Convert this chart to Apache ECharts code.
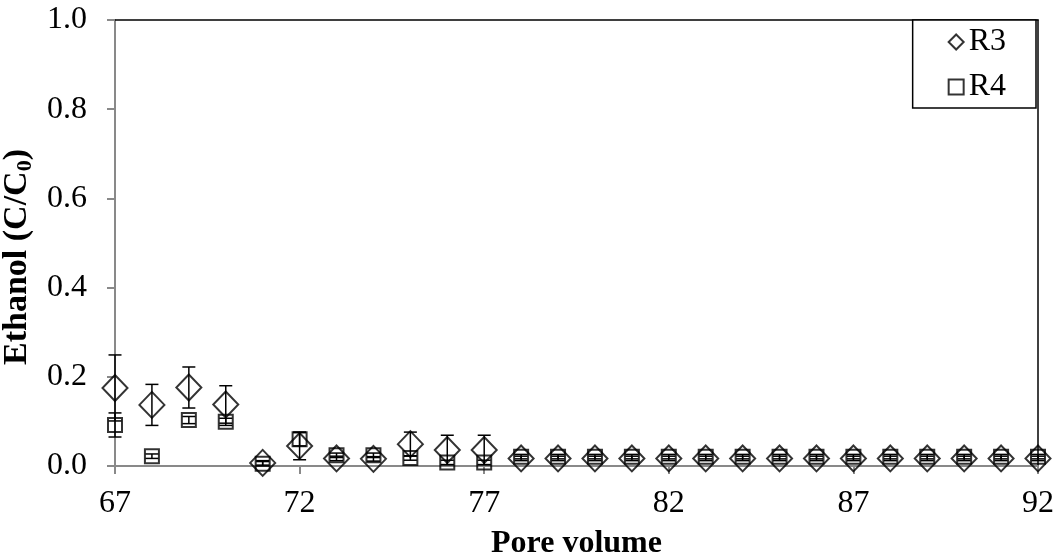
<!DOCTYPE html>
<html>
<head>
<meta charset="utf-8">
<script src="https://cdn.jsdelivr.net/npm/echarts@6/dist/echarts.min.js"></script>
<style>html,body{margin:0;padding:0;background:#fff}#c{width:1058px;height:558px}</style>
</head>
<body>
<div id="c"></div>
<script>
var poreVolume = [67,68,69,70,71,72,73,74,75,76,77,78,79,80,81,82,83,84,85,86,87,88,89,90,91,92];
var r3 = [0.175,0.137,0.176,0.138,0.007,0.045,0.017,0.016,0.049,0.036,0.036,0.017,0.017,0.017,0.017,0.017,0.017,0.017,0.017,0.017,0.017,0.017,0.017,0.017,0.017,0.017];
var r3Err = [0.074,0.046,0.046,0.042,0.005,0.031,0.005,0.005,0.027,0.033,0.033,0.005,0.005,0.005,0.005,0.005,0.005,0.005,0.005,0.005,0.005,0.005,0.005,0.005,0.005,0.005];
var r4 = [0.092,0.022,0.103,0.099,0.005,0.060,0.024,0.024,0.018,0.008,0.008,0.021,0.021,0.021,0.021,0.021,0.021,0.021,0.021,0.021,0.021,0.021,0.021,0.021,0.021,0.021];
var r4Err = [0.027,0.005,0.008,0.008,0.005,0.015,0.005,0.005,0.005,0.005,0.005,0.005,0.005,0.005,0.005,0.005,0.005,0.005,0.005,0.005,0.005,0.005,0.005,0.005,0.005,0.005];
var xTicks = [67,72,77,82,87,92];

var FONT = '"Liberation Serif", "Times New Roman", serif';

function pts(ys){ return poreVolume.map(function(x,i){ return [x, ys[i]]; }); }
function errData(ys, es){ return poreVolume.map(function(x,i){ return [x, ys[i]-es[i], ys[i]+es[i]]; }); }

function errRender(params, api){
  var x = api.value(0);
  var lo = api.coord([x, api.value(1)]);
  var hi = api.coord([x, api.value(2)]);
  var cw = 6.5;
  var st = {stroke:'#000', lineWidth:1.5};
  return {type:'group', children:[
    {type:'line', shape:{x1:lo[0],y1:lo[1],x2:hi[0],y2:hi[1]}, style:st},
    {type:'line', shape:{x1:lo[0]-cw,y1:lo[1],x2:lo[0]+cw,y2:lo[1]}, style:st},
    {type:'line', shape:{x1:hi[0]-cw,y1:hi[1],x2:hi[0]+cw,y2:hi[1]}, style:st}
  ]};
}

var chart = echarts.init(document.getElementById('c'));
chart.setOption({
  animation:false,
  backgroundColor:'#fff',
  grid:{left:115, right:20, top:20, bottom:92, show:false, containLabel:false, outerBoundsMode:'none'},
  legend:{
    orient:'vertical', right:22, top:20,
    data:['R3','R4'],
    itemWidth:15, itemHeight:15, itemGap:13,
    padding:[6,30,5,35],
    borderColor:'#000', borderWidth:1.5, backgroundColor:'#fff',
    textStyle:{fontFamily:FONT, fontSize:32, color:'#000'}
  },
  xAxis:[{
    type:'value', min:67, max:92,
    axisLine:{show:true, onZero:false, lineStyle:{color:'#898989', width:2}},
    axisTick:{show:true, customValues:xTicks, length:8, lineStyle:{color:'#898989', width:2}},
    axisLabel:{customValues:xTicks, fontFamily:FONT, fontSize:32, color:'#000', margin:22},
    splitLine:{show:false},
    name:'Pore volume', nameLocation:'middle', nameGap:62,
    nameTextStyle:{fontFamily:FONT, fontSize:32, fontWeight:'bold', color:'#000'}
  },{
    type:'value', position:'top', min:67, max:92,
    axisLine:{show:true, onZero:false, lineStyle:{color:'#000', width:1.5}},
    axisTick:{show:false}, axisLabel:{show:false}, splitLine:{show:false}
  }],
  yAxis:[{
    type:'value', min:0, max:1, interval:0.2,
    axisLine:{show:true, onZero:false, lineStyle:{color:'#898989', width:2}},
    axisTick:{show:true, length:8, lineStyle:{color:'#898989', width:2}},
    axisLabel:{fontFamily:FONT, fontSize:32, color:'#000', margin:28,
      formatter:function(v){ return v.toFixed(1); }},
    splitLine:{show:false},
    name:'{b|Ethanol (C/C}{s|0}{b|)}', nameLocation:'middle', nameGap:69, nameRotate:90,
    nameTextStyle:{padding:[0,28,0,0], rich:{
      b:{fontFamily:FONT, fontSize:34, fontWeight:'bold', color:'#000'},
      s:{fontFamily:FONT, fontSize:22, fontWeight:'bold', color:'#000', verticalAlign:'bottom', padding:[15,0,0,0]}
    }}
  },{
    type:'value', position:'right', min:0, max:1,
    axisLine:{show:true, onZero:false, lineStyle:{color:'#000', width:1.5}},
    axisTick:{show:false}, axisLabel:{show:false}, splitLine:{show:false}
  }],
  series:[
    {name:'R3e', type:'custom', renderItem:errRender, data:errData(r3, r3Err), z:3, silent:true},
    {name:'R4e', type:'custom', renderItem:errRender, data:errData(r4, r4Err), z:3, silent:true},
    {name:'R3', type:'scatter', data:pts(r3), symbol:'diamond', symbolSize:[25,26],
      itemStyle:{color:'rgba(0,0,0,0)', borderColor:'#000', borderWidth:2}, z:4},
    {name:'R4', type:'scatter', data:pts(r4), symbol:'rect', symbolSize:14,
      itemStyle:{color:'rgba(0,0,0,0)', borderColor:'#000', borderWidth:2}, z:4}
  ]
});
</script>
</body>
</html>
